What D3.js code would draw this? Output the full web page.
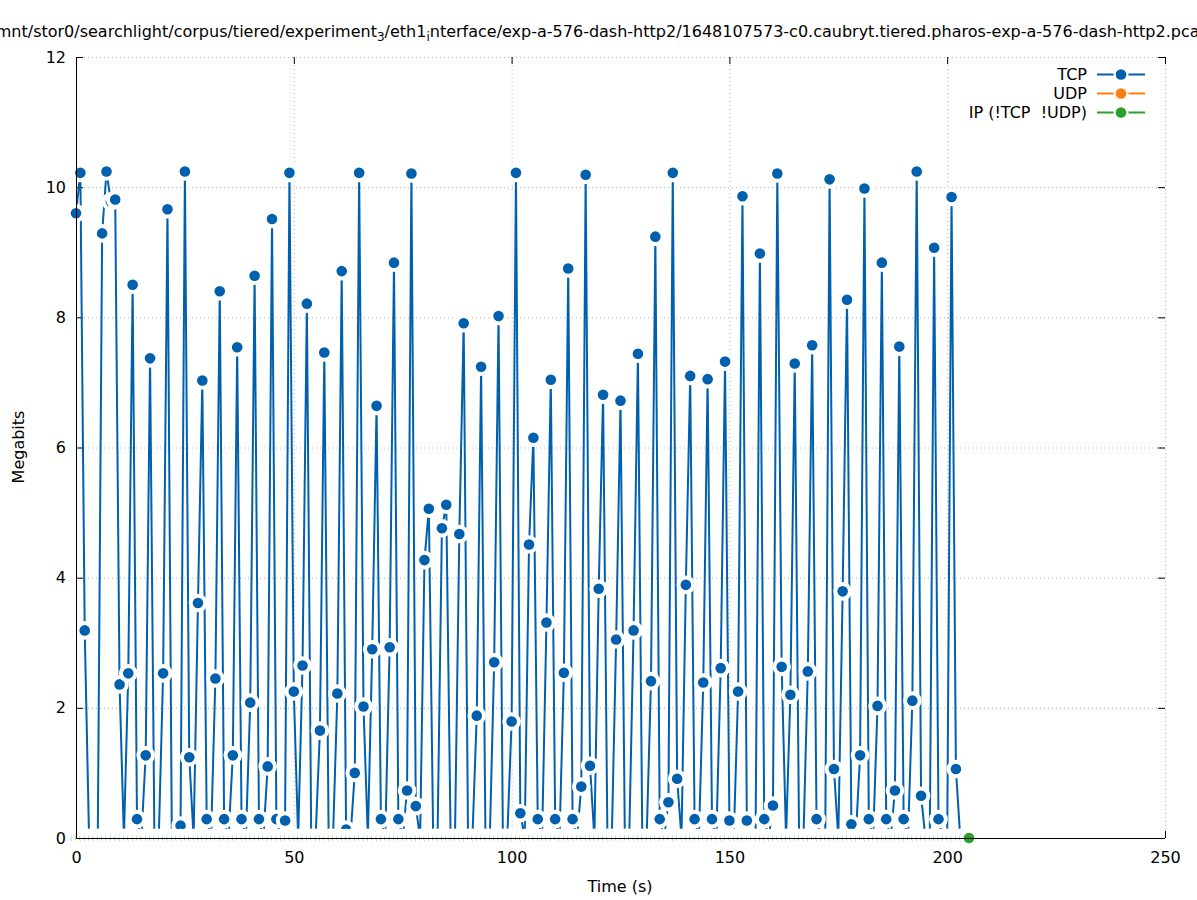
<!DOCTYPE html>
<html>
<head>
<meta charset="utf-8">
<script src="https://cdn.jsdelivr.net/npm/d3@7"></script>
<style>
  body { margin: 0; background: #fff; }
  svg { display: block; font-family: "DejaVu Sans", sans-serif; }
</style>
</head>
<body>
<svg id="chart" width="1197" height="900"></svg>
<script>
// Megabits por segundo de captura (índice = segundo). Ceros = sin tráfico.
const tcpMbits = [
  9.60, 10.22, 3.19, 0, 0, 0, 9.29, 10.24, 9.78, 9.81,
  2.36, 0, 2.53, 8.50, 0.29, 0, 1.27, 7.37, 0, 0,
  2.53, 9.66, 0, 0, 0.19, 10.24, 1.24, 0, 3.61, 7.03,
  0.29, 0, 2.45, 8.40, 0.29, 0, 1.27, 7.54, 0.29, 0,
  2.08, 8.64, 0.29, 0, 1.10, 9.51, 0.29, 0, 0.27, 10.22,
  2.25, 0, 2.65, 8.21, 0, 0, 1.65, 7.46, 0, 0,
  2.22, 8.71, 0.13, 0, 1.00, 10.22, 2.02, 0, 2.90, 6.64,
  0.29, 0, 2.93, 8.84, 0.29, 0, 0.73, 10.21, 0.49, 0,
  4.27, 5.06, 0, 0, 4.76, 5.12, 0, 0, 4.67, 7.91,
  0, 0, 1.88, 7.24, 0, 0, 2.70, 8.02, 0, 0,
  1.79, 10.22, 0.38, 0, 4.51, 6.15, 0.29, 0, 3.31, 7.04,
  0.29, 0, 2.54, 8.75, 0.29, 0, 0.79, 10.19, 1.11, 0,
  3.83, 6.81, 0, 0, 3.05, 6.72, 0, 0, 3.19, 7.44,
  0, 0, 2.41, 9.24, 0.29, 0, 0.55, 10.22, 0.91, 0,
  3.89, 7.10, 0.29, 0, 2.39, 7.05, 0.29, 0, 2.61, 7.32,
  0.27, 0, 2.25, 9.86, 0.27, 0, 0, 8.98, 0.29, 0,
  0.50, 10.21, 2.63, 0, 2.20, 7.29, 0, 0, 2.56, 7.57,
  0.29, 0, 0, 10.12, 1.06, 0, 3.79, 8.27, 0.21, 0,
  1.27, 9.98, 0.29, 0, 2.03, 8.84, 0.29, 0, 0.73, 7.55,
  0.29, 0, 2.11, 10.24, 0.65, 0, 0, 9.07, 0.29, 0,
  0, 9.85, 1.06, 0, 0, 0
];
// 206 valores cada una (0..205 s), todo cero
const udpMbits = [
  0,0,0,0,0,0,0,0,0,0,0,0,0,0,0,0,0,0,0,0,
  0,0,0,0,0,0,0,0,0,0,0,0,0,0,0,0,0,0,0,0,
  0,0,0,0,0,0,0,0,0,0,0,0,0,0,0,0,0,0,0,0,
  0,0,0,0,0,0,0,0,0,0,0,0,0,0,0,0,0,0,0,0,
  0,0,0,0,0,0,0,0,0,0,0,0,0,0,0,0,0,0,0,0,
  0,0,0,0,0,0,0,0,0,0,0,0,0,0,0,0,0,0,0,0,
  0,0,0,0,0,0,0,0,0,0,0,0,0,0,0,0,0,0,0,0,
  0,0,0,0,0,0,0,0,0,0,0,0,0,0,0,0,0,0,0,0,
  0,0,0,0,0,0,0,0,0,0,0,0,0,0,0,0,0,0,0,0,
  0,0,0,0,0,0,0,0,0,0,0,0,0,0,0,0,0,0,0,0,
  0,0,0,0,0,0
];
const ipMbits = [
  0,0,0,0,0,0,0,0,0,0,0,0,0,0,0,0,0,0,0,0,
  0,0,0,0,0,0,0,0,0,0,0,0,0,0,0,0,0,0,0,0,
  0,0,0,0,0,0,0,0,0,0,0,0,0,0,0,0,0,0,0,0,
  0,0,0,0,0,0,0,0,0,0,0,0,0,0,0,0,0,0,0,0,
  0,0,0,0,0,0,0,0,0,0,0,0,0,0,0,0,0,0,0,0,
  0,0,0,0,0,0,0,0,0,0,0,0,0,0,0,0,0,0,0,0,
  0,0,0,0,0,0,0,0,0,0,0,0,0,0,0,0,0,0,0,0,
  0,0,0,0,0,0,0,0,0,0,0,0,0,0,0,0,0,0,0,0,
  0,0,0,0,0,0,0,0,0,0,0,0,0,0,0,0,0,0,0,0,
  0,0,0,0,0,0,0,0,0,0,0,0,0,0,0,0,0,0,0,0,
  0,0,0,0,0,0
];
const seriesNames = ['TCP', 'UDP', 'IP (!TCP  !UDP)'];
const xTicks = [0, 50, 100, 150, 200, 250];
const yTicks = [0, 2, 4, 6, 8, 10, 12];

const COLORS = ['#0060ad', '#ff7f0e', '#2ca02c'];
const PT_R = 5.3, HALO_R = 9.3, TICK = 7;
const L = 76, R = 1165, T = 57, B = 838;

const svg = d3.select('#chart');
const x = d3.scaleLinear().domain([0, 250]).range([L, R]);
const y = d3.scaleLinear().domain([0, 12]).range([B, T]);

// rejilla punteada (detrás)
const grid = svg.append('g').attr('stroke', '#b4b4b4').attr('stroke-width', 1)
  .attr('stroke-dasharray', '1,3');
grid.selectAll('line.gx').data(xTicks).join('line').attr('class', 'gx')
  .attr('x1', d => x(d) + 0.5).attr('x2', d => x(d) + 0.5).attr('y1', T).attr('y2', B);
grid.selectAll('line.gy').data(yTicks).join('line').attr('class', 'gy')
  .attr('x1', L).attr('x2', R).attr('y1', d => y(d) + 0.5).attr('y2', d => y(d) + 0.5);

// ticks hacia dentro, espejados arriba/derecha; van detrás de los datos
const axB = svg.append('g').attr('transform', `translate(0,${B})`)
  .call(d3.axisBottom(x).tickValues(xTicks).tickSize(-TICK).tickPadding(14));
const axL = svg.append('g').attr('transform', `translate(${L},0)`)
  .call(d3.axisLeft(y).tickValues(yTicks).tickSize(-TICK).tickPadding(10));
const axT = svg.append('g').attr('transform', `translate(0,${T})`)
  .call(d3.axisTop(x).tickValues(xTicks).tickSize(-TICK).tickFormat(''));
const axR = svg.append('g').attr('transform', `translate(${R},0)`)
  .call(d3.axisRight(y).tickValues(yTicks).tickSize(-TICK).tickFormat(''));
[axB, axL, axT, axR].forEach(a => {
  a.select('.domain').remove();
  a.selectAll('line').attr('stroke', '#000').attr('stroke-width', 1);
  a.selectAll('text').attr('font-family', '"DejaVu Sans", sans-serif')
    .attr('font-size', 16).attr('fill', '#000');
});

// series: línea, luego cada punto con su hueco blanco (pointinterval -1)
const line = d3.line().x((d, i) => x(i)).y(d => y(d));
[tcpMbits, udpMbits, ipMbits].forEach((vals, k) => {
  const g = svg.append('g');
  g.append('path').datum(vals).attr('d', line)
    .attr('fill', 'none').attr('stroke', COLORS[k]).attr('stroke-width', 2)
    .attr('stroke-linejoin', 'miter');
  const pts = g.selectAll('g.pt').data(vals).join('g').attr('class', 'pt')
    .attr('transform', (d, i) => `translate(${x(i)},${y(d)})`);
  pts.append('circle').attr('r', HALO_R).attr('fill', '#fff');
  pts.append('circle').attr('r', PT_R).attr('fill', COLORS[k]);
});

// borde izquierdo + inferior delante
svg.append('path')
  .attr('d', `M${L + 0.5},${T}V${B + 0.5}H${R}`)
  .attr('fill', 'none').attr('stroke', '#000').attr('stroke-width', 1);

// título (el "_" de gnuplot convierte en subíndice)
const title = svg.append('text').attr('x', 600).attr('y', 37)
  .attr('text-anchor', 'middle').attr('font-size', 16).attr('fill', '#000');
title.append('tspan').text('/mnt/stor0/searchlight/corpus/tiered/experiment');
title.append('tspan').attr('font-size', 12).attr('dy', 4).text('3');
title.append('tspan').attr('dy', -4).text('/eth1');
title.append('tspan').attr('font-size', 12).attr('dy', 4).text('i');
title.append('tspan').attr('dy', -4)
  .text('nterface/exp-a-576-dash-http2/1648107573-c0.caubryt.tiered.pharos-exp-a-576-dash-http2.pcap');

svg.append('text').attr('x', 620).attr('y', 892).attr('text-anchor', 'middle')
  .attr('font-size', 16).text('Time (s)');
svg.append('text').attr('transform', 'translate(24,447) rotate(-90)')
  .attr('text-anchor', 'middle').attr('font-size', 16).text('Megabits');

// leyenda
const key = svg.append('g').selectAll('g').data(seriesNames).join('g')
  .attr('transform', (d, i) => `translate(0,${74.5 + i * 19})`);
key.append('text').attr('x', 1087).attr('dy', '0.35em').attr('text-anchor', 'end')
  .attr('font-size', 16).style('white-space', 'pre').text(d => d);
key.append('line').attr('x1', 1097).attr('x2', 1145)
  .attr('stroke', (d, i) => COLORS[i]).attr('stroke-width', 2);
key.append('circle').attr('cx', 1121).attr('r', 7.5).attr('fill', '#fff');
key.append('circle').attr('cx', 1121).attr('r', PT_R).attr('fill', (d, i) => COLORS[i]);
</script>
</body>
</html>
